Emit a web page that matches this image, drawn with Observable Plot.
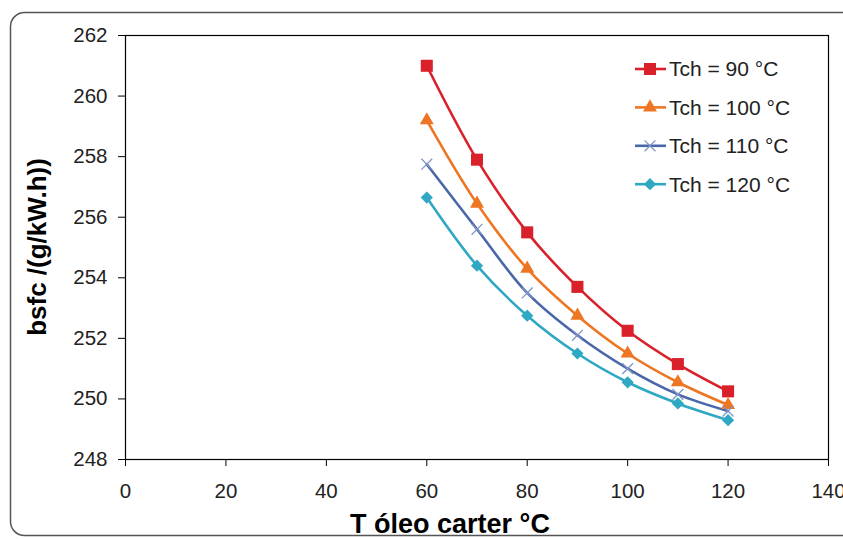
<!DOCTYPE html>
<html><head><meta charset="utf-8">
<script src="https://cdn.jsdelivr.net/npm/d3@7"></script>
<script src="https://cdn.jsdelivr.net/npm/@observablehq/plot@0.6"></script>
<style>
body{margin:0;background:#fff;}
#wrap{position:relative;width:843px;height:539px;overflow:hidden;}
</style></head><body><div id="wrap"></div>
<script>
const temps = [60, 70, 80, 90, 100, 110, 120];
const tch90  = [261.0, 257.9, 255.5, 253.7, 252.25, 251.15, 250.25];
const tch100 = [259.2, 256.45, 254.3, 252.75, 251.5, 250.55, 249.8];
const tch110 = [257.75, 255.6, 253.5, 252.1, 251.0, 250.15, 249.6];
const tch120 = [256.65, 254.4, 252.75, 251.5, 250.55, 249.85, 249.3];
const seriesNames = ["Tch = 90 °C", "Tch = 100 °C", "Tch = 110 °C", "Tch = 120 °C"];
const seriesColors = ["#D9212B", "#EE7623", "#4A67A9", "#2FA8C3"];
const seriesSymbols = ["square", "triangle", "times", "diamond2"];
const xTicks = [0, 20, 40, 60, 80, 100, 120, 140];
const yTicks = [248, 250, 252, 254, 256, 258, 260, 262];
const xLabel = "T óleo carter °C";
const yLabel = "bsfc /(g/kW.h))";

const allSeries = [tch90, tch100, tch110, tch120];
const rows = [];
allSeries.forEach((vals, i) => vals.forEach((v, j) => rows.push({series: seriesNames[i], t: temps[j], bsfc: v})));

const font = "'Liberation Sans', Arial, sans-serif";
const symR = {square: 6.8, triangle: 5.2, times: 5, diamond2: 5.5};
const dotMarks = seriesNames.map((name, i) => {
  const data = rows.filter(d => d.series === name);
  const s = seriesSymbols[i];
  if (s === "times") {
    return Plot.dot(data, {x: "t", y: "bsfc", symbol: () => "times", r: symR[s], stroke: "#7F95C6", strokeWidth: 1.3});
  }
  return Plot.dot(data, {x: "t", y: "bsfc", symbol: () => s, r: symR[s], fill: seriesColors[i], stroke: "none"});
});

const chart = Plot.plot({
  width: 843, height: 539,
  marginTop: 35, marginRight: 15, marginBottom: 80, marginLeft: 125,
  style: {fontFamily: font, background: "transparent", color: "#222"},
  x: {domain: [0, 140]},
  y: {domain: [248, 262]},
  color: {domain: seriesNames, range: seriesColors},
  symbol: {domain: seriesSymbols, range: seriesSymbols},
  marks: [
    Plot.frame({stroke: "#000", strokeWidth: 1.2}),
    Plot.axisX({ticks: xTicks, tickSize: 7, tickPadding: 17, fontSize: 20.5, label: null, stroke: "#000"}),
    Plot.axisY({ticks: yTicks, tickSize: 7, tickPadding: 11, fontSize: 20.5, label: null, stroke: "#000"}),
    Plot.line(rows, {x: "t", y: "bsfc", z: "series", stroke: "series", curve: "catmull-rom", strokeWidth: 2.6}),
    ...dotMarks
  ]
});

const svg = d3.select(chart);
// outer rounded border
svg.insert("rect", ":first-child")
  .attr("x", 10.5).attr("y", 12.5).attr("width", 860).attr("height", 523)
  .attr("rx", 14).attr("fill", "#fff").attr("stroke", "#555").attr("stroke-width", 1.5);

// axis titles
svg.append("text").text(xLabel)
  .attr("x", 450).attr("y", 533).attr("text-anchor", "middle")
  .attr("font-family", font).attr("font-weight", "bold").attr("font-size", 27).attr("fill", "#000");
svg.append("text").text(yLabel)
  .attr("transform", "translate(46,247) rotate(-90)").attr("text-anchor", "middle")
  .attr("font-family", font).attr("font-weight", "bold").attr("font-size", 26).attr("fill", "#000");

// legend
const symMap = {square: d3.symbolSquare, triangle: d3.symbolTriangle, times: d3.symbolTimes, diamond2: d3.symbolDiamond2};
const lg = svg.append("g").attr("font-family", font).attr("font-size", 21).attr("text-anchor", "start");
seriesNames.forEach((name, i) => {
  const y = 69 + i * 38.4;
  const g = lg.append("g").attr("transform", `translate(0,${y})`);
  g.append("line").attr("x1", 635).attr("x2", 666).attr("y1", 0).attr("y2", 0)
    .attr("stroke", seriesColors[i]).attr("stroke-width", 2.6);
  const s = seriesSymbols[i];
  g.append("path").attr("transform", "translate(650,0)")
    .attr("d", d3.symbol(symMap[s], Math.PI * symR[s] * symR[s])())
    .attr("fill", s === "times" ? "none" : seriesColors[i])
    .attr("stroke", s === "times" ? "#7F95C6" : "none").attr("stroke-width", 1.3);
  g.append("text").text(name).attr("x", 669).attr("y", 0).attr("dy", "0.35em").attr("fill", "#222");
});

document.getElementById("wrap").appendChild(chart);
</script>
</body></html>
